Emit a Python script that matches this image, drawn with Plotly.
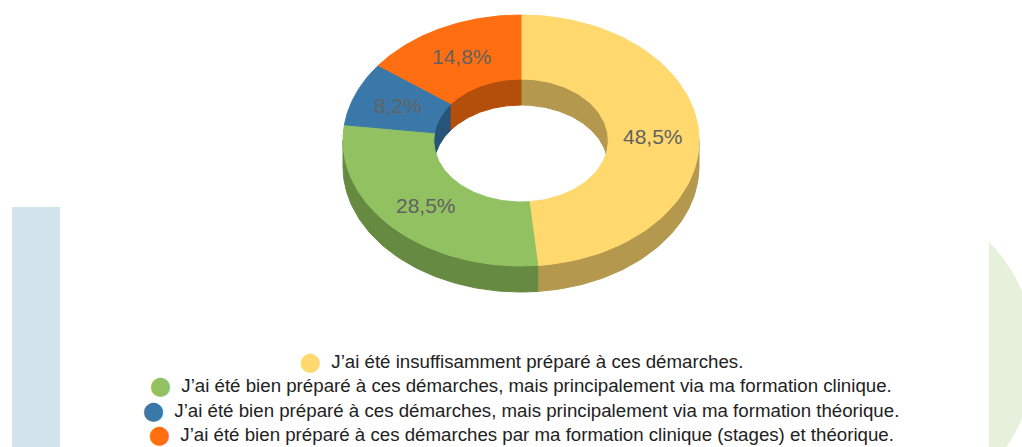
import numpy as np
import plotly.graph_objects as go

# ---------------- data ----------------
categories = [
    "J’ai été insuffisamment préparé à ces démarches.",
    "J’ai été bien préparé à ces démarches, mais principalement via ma formation clinique.",
    "J’ai été bien préparé à ces démarches, mais principalement via ma formation théorique.",
    "J’ai été bien préparé à ces démarches par ma formation clinique (stages) et théorique.",
]
values = [48.5, 28.5, 8.2, 14.8]
value_labels = ["48,5%", "28,5%", "8,2%", "14,8%"]
top_colors = ["#FFD86E", "#92C162", "#3A78A9", "#FF6F12"]
side_colors = ["#B3984D", "#668A42", "#27557A", "#B34E0B"]

# ---------------- geometry (layout) ----------------
W, H = 1022, 447
CX, CY, RX, RY = 521, 140.5, 178, 125.5
HOLE, DEPTH = 0.49, 26


def arc(a, b, f, dy=0.0, n=80):
    t = np.radians(np.linspace(a, b, n))
    return CX + RX * f * np.sin(t), CY - RY * f * np.cos(t) + dy


def band(a, b, f):
    x1, y1 = arc(a, b, f)
    x2, y2 = arc(b, a, f, DEPTH)
    return np.concatenate([x1, x2, x1[:1]]), np.concatenate([y1, y2, y1[:1]])


total = sum(values)
ends = np.cumsum(values) / total * 360.0
starts = np.concatenate([[0.0], ends[:-1]])

fig = go.Figure()

# inner (back) walls of the hole
for a, b, c in zip(starts, ends, side_colors):
    for lo_lim, hi_lim in [(0, 90), (270, 360)]:
        lo, hi = max(a, lo_lim), min(b, hi_lim)
        if lo < hi:
            x, y = band(lo, hi, HOLE)
            fig.add_trace(go.Scatter(x=x, y=y, mode="lines", fill="toself",
                                     fillcolor=c, line=dict(color=c, width=1),
                                     hoverinfo="skip"))

# outer (front) walls
for a, b, c in zip(starts, ends, side_colors):
    lo, hi = max(a, 90), min(b, 270)
    if lo < hi:
        x, y = band(lo, hi, 1.0)
        fig.add_trace(go.Scatter(x=x, y=y, mode="lines", fill="toself",
                                 fillcolor=c, line=dict(color=c, width=1),
                                 hoverinfo="skip"))

# top faces
for a, b, c, name in zip(starts, ends, top_colors, categories):
    xo, yo = arc(a, b, 1.0)
    xi, yi = arc(b, a, HOLE)
    x = np.concatenate([xo, xi, xo[:1]])
    y = np.concatenate([yo, yi, yo[:1]])
    fig.add_trace(go.Scatter(x=x, y=y, mode="lines", fill="toself",
                             fillcolor=c, line=dict(color=c, width=1),
                             name=name, hoverinfo="name"))

# value labels
annotations = []
fmid = (1 + HOLE) / 2
for a, b, lab in zip(starts, ends, value_labels):
    m = (a + b) / 2
    x, y = arc(m, m, fmid, n=1)
    annotations.append(dict(x=float(x[0]), y=float(y[0]), xref="x", yref="y",
                            text=lab, showarrow=False,
                            font=dict(family="Liberation Sans, Arial", size=21, color="#626262")))

# legend (centred lines)
LEG_X, LEG_Y0, LEG_DY = 521, 361.5, 24.6
for i, (name, c) in enumerate(zip(categories, top_colors)):
    annotations.append(dict(
        x=LEG_X, y=LEG_Y0 + i * LEG_DY, xref="x", yref="y",
        text=f"<span style='color:{c};font-family:DejaVu Sans'>⬤</span>  {name}",
        showarrow=False, xanchor="center", yanchor="middle",
        font=dict(family="Liberation Sans, Arial", size=18.7, color="#222222")))

# background decorations
phi_lim = np.degrees(np.arccos((989 - 873) / 162))
ph = np.radians(np.linspace(-phi_lim, phi_lim, 60))
gx = 873 + 162 * np.cos(ph)
gy = 355 + 162 * np.sin(ph)
path = "M " + " L ".join(f"{px:.1f},{py:.1f}" for px, py in zip(gx, gy)) + " Z"

shapes = [
    dict(type="rect", xref="x", yref="y", x0=12, x1=60, y0=207, y1=460,
         fillcolor="#D3E3EC", line=dict(width=0), layer="below"),
    dict(type="path", xref="x", yref="y", path=path,
         fillcolor="#E7F0DA", line=dict(width=0), layer="below"),
]

fig.update_layout(
    width=W, height=H,
    margin=dict(l=0, r=0, t=0, b=0),
    paper_bgcolor="white", plot_bgcolor="white",
    showlegend=False,
    xaxis=dict(range=[0, W], visible=False, fixedrange=True),
    yaxis=dict(range=[H, 0], visible=False, fixedrange=True),
    annotations=annotations,
    shapes=shapes,
)

fig.write_html(
    "out.html",
    config={"displayModeBar": False},
    post_script="document.body.style.margin='0';document.body.style.overflow='hidden';",
)
